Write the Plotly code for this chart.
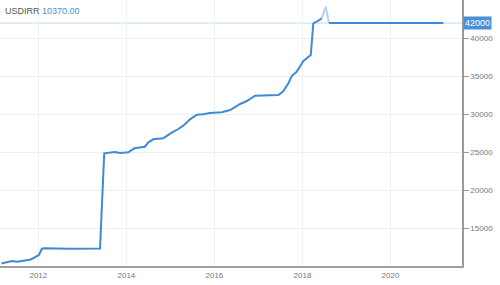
import plotly.graph_objects as go

dates = ["2011-03-01", "2011-05-27", "2011-07-07", "2011-08-01", "2011-09-12", "2011-10-23",
         "2011-11-17", "2011-12-20", "2012-01-06", "2012-01-31", "2012-02-17", "2012-09-20",
         "2013-05-27", "2013-07-01", "2013-08-04", "2013-09-28", "2013-11-09", "2014-01-17",
         "2014-03-08", "2014-06-04", "2014-07-02", "2014-08-12", "2014-11-03", "2014-12-01",
         "2015-01-12", "2015-03-08", "2015-04-18", "2015-06-13", "2015-08-08", "2015-10-01",
         "2015-11-25", "2016-03-03", "2016-05-11", "2016-08-02", "2016-09-26", "2016-12-04",
         "2017-06-16", "2017-07-27", "2017-09-06", "2017-10-04", "2017-11-14", "2018-01-09",
         "2018-03-11", "2018-04-01", "2018-04-29", "2018-06-10", "2018-07-13", "2018-08-10",
         "2021-03-16"]
values = [10370, 10697, 10605, 10658, 10829, 10868,
          11053, 11316, 11487, 12316, 12368, 12300,
          12340, 24868, 24908, 25040, 24908, 25000,
          25526, 25737, 26316, 26711, 26842, 27145,
          27579, 28066, 28500, 29342, 29947, 30000,
          30171, 30263, 30566, 31355, 31750, 32447,
          32540, 33066, 34079, 35040, 35600, 37013,
          37803, 41974, 42184, 42632, 44158, 42000,
          42000]
# points of the pale spike segment (drawn separately)
spike_idx = [45, 46, 47]

title_symbol = "USDIRR"
title_value = "10370.00"
last_value = 42000
ytick_vals = [15000, 20000, 25000, 30000, 35000, 40000]

main_color = "#3f8bd3"
main_y = [None if i == 46 else v for i, v in enumerate(values)]

fig = go.Figure()
fig.add_trace(go.Scatter(x=dates, y=main_y, mode="lines", connectgaps=False,
                         line=dict(color=main_color, width=2), showlegend=False))
fig.add_trace(go.Scatter(x=[dates[i] for i in spike_idx], y=[values[i] for i in spike_idx],
                         mode="lines", line=dict(color="rgba(63,139,211,0.4)", width=2),
                         showlegend=False))

fig.add_shape(type="line", xref="paper", x0=0, x1=1, yref="y", y0=last_value, y1=last_value,
              line=dict(color="#c6def2", width=1), layer="below")

fig.add_annotation(xref="paper", yref="y", x=1, y=last_value, xanchor="left", yanchor="middle",
                   text=f"{last_value}", showarrow=False, bgcolor="#4a90d6",
                   font=dict(color="white", size=9, family="Liberation Sans, Arial"),
                   borderpad=1, xshift=1)

fig.add_annotation(xref="paper", yref="paper", x=0, y=1 - 11 / 266, xanchor="left",
                   yanchor="middle", showarrow=False, xshift=3,
                   text=f"{title_symbol} <span style='color:#4a90d9'>{title_value}</span>",
                   font=dict(color="#555555", size=9, family="Liberation Sans, Arial"))

fig.update_layout(
    width=500, height=285,
    margin=dict(l=0, r=38, t=0, b=19),
    paper_bgcolor="white", plot_bgcolor="white",
    xaxis=dict(range=["2011-02-17", "2021-08-17"], type="date",
               tick0="2012-01-01", dtick="M24", tickformat="%Y",
               showgrid=True, gridcolor="#e8f3f7", gridwidth=1,
               showline=True, linecolor="#a0a0a0", linewidth=2,
               ticks="", zeroline=False,
               tickfont=dict(size=8, color="#777777", family="Liberation Sans, Arial")),
    yaxis=dict(range=[10040, 45040], side="right", tickvals=ytick_vals, tickformat="d",
               showgrid=True, gridcolor="#eeeeee", gridwidth=1,
               showline=True, linecolor="#999999", linewidth=1.5,
               ticks="outside", ticklen=5, tickcolor="#999999",
               zeroline=False,
               tickfont=dict(size=8, color="#777777", family="Liberation Sans, Arial")),
)

fig.write_html("out.html")
